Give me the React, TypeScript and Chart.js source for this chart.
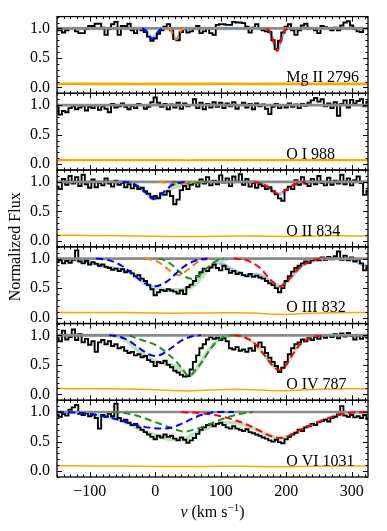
import React, { useEffect, useRef } from 'react';
import { Chart, registerables } from 'chart.js';

Chart.register(...registerables);

const FONT = '"Liberation Serif", "Times New Roman", serif';

const VELOCITY = [
  -150, -145, -140, -135, -130, -125, -120, -115, -110, -105,
  -100, -95, -90, -85, -80, -75, -70, -65, -60, -55,
  -50, -45, -40, -35, -30, -25, -20, -15, -10, -5,
  0, 5, 10, 15, 20, 25, 30, 35, 40, 45,
  50, 55, 60, 65, 70, 75, 80, 85, 90, 95,
  100, 105, 110, 115, 120, 125, 130, 135, 140, 145,
  150, 155, 160, 165, 170, 175, 180, 185, 190, 195,
  200, 205, 210, 215, 220, 225, 230, 235, 240, 245,
  250, 255, 260, 265, 270, 275, 280, 285, 290, 295,
  300, 305, 310, 315, 320, 325,
];

const FLUX_MGII = [
  0.97, 0.97, 0.93, 0.97, 1.0, 1.0, 0.95, 0.92, 0.92, 0.99,
  1.04, 1.04, 1.08, 1.08, 1.01, 0.89, 0.99, 1.07, 1.11, 0.89,
  1.04, 1.04, 1.08, 0.97, 0.92, 1.0, 0.97, 0.94, 0.86, 0.79,
  0.83, 0.91, 0.97, 1.03, 1.07, 0.97, 0.82, 0.8, 0.94, 0.99,
  0.93, 0.95, 1.0, 1.04, 0.92, 0.95, 1.0, 0.92, 0.89, 1.06,
  1.07, 1.07, 1.06, 1.06, 1.11, 1.1, 1.1, 1.09, 1.03, 0.93,
  1.01, 1.07, 1.0, 0.97, 0.95, 0.94, 0.8, 0.65, 0.79, 0.93,
  1.03, 1.07, 0.97, 0.89, 0.97, 1.05, 1.08, 1.0, 1.0, 0.97,
  0.92, 1.04, 1.02, 1.0, 0.97, 1.01, 0.97, 1.05, 1.1, 1.12,
  1.05, 0.99, 0.95, 0.94, 1.0, 1.0,
];

const FLUX_OI = [
  0.97, 0.84, 0.9, 0.88, 0.95, 0.98, 0.93, 0.96, 0.99, 0.91,
  0.97, 0.95, 1.0, 0.92, 0.98, 0.94, 0.88, 1.02, 0.96, 0.98,
  1.03, 0.97, 0.93, 0.99, 0.95, 1.02, 1.0, 0.94, 0.97, 1.05,
  1.13, 1.04, 0.97, 1.02, 0.93, 1.01, 0.96, 1.04, 0.94, 1.03,
  0.98, 1.0, 1.1, 0.95, 1.04, 0.93, 1.02, 0.96, 1.05, 0.97,
  1.04, 0.95, 1.03, 0.98, 1.05, 0.94, 1.0, 1.04, 0.96, 1.02,
  0.93, 1.03, 0.98, 1.01, 0.94, 0.85, 0.97, 1.02, 0.95, 1.0,
  0.96, 1.03, 0.97, 1.01, 0.95, 1.02, 0.99, 1.04, 1.08, 1.12,
  1.06, 1.1, 0.98, 1.03, 0.95, 1.05, 0.82, 1.02, 1.08, 0.96,
  1.09, 1.03, 1.07, 1.1, 0.98, 1.06,
];

const FLUX_OII = [
  0.92, 0.88, 1.05, 0.95, 1.1, 0.97, 1.08, 0.93, 1.12, 0.96,
  0.9, 1.04, 0.91, 0.98, 0.94, 1.06, 0.97, 0.92, 1.02, 0.95,
  0.98, 0.91, 0.96, 0.89, 0.93, 0.88, 0.9, 0.84, 0.8, 0.74,
  0.76, 0.72, 0.81, 0.78, 0.84, 0.76, 0.62, 0.7, 0.86, 0.93,
  0.88, 0.95, 0.99, 0.92, 1.04, 0.97, 1.08, 0.94, 1.02, 0.96,
  1.11, 0.99, 1.06, 0.93, 1.09, 1.0, 1.13, 0.95, 1.05, 0.92,
  0.98, 0.9, 0.96, 0.93, 0.88, 0.91, 0.84, 0.79, 0.72, 0.68,
  0.86, 0.92, 0.88, 1.03, 0.95, 1.08, 0.97, 0.93, 1.05, 0.96,
  1.1, 0.98, 0.94, 1.07, 0.95, 1.02, 0.97, 1.12, 0.96, 1.06,
  0.94, 1.03, 1.09, 0.98, 0.78, 0.85,
];

const FLUX_OIII = [
  0.94, 0.97, 0.92, 0.96, 0.93, 0.98, 1.14, 0.95, 0.92, 0.96,
  0.9, 0.94, 0.91, 0.88, 0.9, 0.86, 0.84, 0.81, 0.83, 0.79,
  0.82, 0.77, 0.79, 0.75, 0.7, 0.72, 0.66, 0.62, 0.55, 0.48,
  0.38, 0.43, 0.47, 0.45, 0.48, 0.46, 0.44, 0.41, 0.46, 0.4,
  0.52, 0.56, 0.62, 0.7, 0.77, 0.83, 0.79, 0.85, 0.9, 0.84,
  0.8, 0.88, 0.82, 0.76, 0.79, 0.74, 0.76, 0.72, 0.7, 0.74,
  0.69, 0.71, 0.68, 0.66, 0.62, 0.58, 0.55, 0.5, 0.43, 0.5,
  0.62, 0.7, 0.78, 0.84, 0.88, 0.92, 0.95, 0.93, 0.97, 1.0,
  0.97, 1.02, 0.98, 1.03, 0.99, 1.04, 1.12, 0.98, 1.05, 0.97,
  1.02, 0.95, 0.99, 0.92, 0.8, 0.85,
];

const FLUX_OIV = [
  0.95, 0.9, 1.08, 0.93, 0.97, 1.1, 0.92, 1.02, 0.88, 0.94,
  0.84, 0.9, 0.72, 0.88, 0.92, 0.85, 0.9, 0.82, 0.85, 0.78,
  0.8, 0.74, 0.7, 0.72, 0.66, 0.68, 0.63, 0.65, 0.58, 0.55,
  0.48, 0.55, 0.53, 0.57, 0.5, 0.46, 0.4, 0.37, 0.33, 0.3,
  0.31, 0.42, 0.55, 0.66, 0.78, 0.85, 0.93, 0.97, 0.94, 0.96,
  0.92, 0.95, 0.9, 0.78, 0.76, 0.8, 0.74, 0.76, 0.72, 0.78,
  0.74, 0.82, 0.88, 0.8, 0.7, 0.62, 0.55, 0.48, 0.38, 0.45,
  0.55, 0.68, 0.78, 0.85, 0.88, 0.93, 0.9, 0.95, 0.92, 0.97,
  0.94, 0.99, 0.96, 1.0, 0.97, 1.02, 0.95, 1.03, 0.98, 1.04,
  0.99, 0.93, 1.0, 0.94, 0.98, 0.96,
];

const FLUX_OVI = [
  0.95, 0.92, 0.97, 0.94, 1.04, 1.08, 1.12, 0.97, 0.95, 0.98,
  0.93, 0.96, 0.9, 0.72, 0.95, 0.92, 0.97, 0.93, 1.14, 0.9,
  0.85, 0.87, 0.82, 0.78, 0.8, 0.74, 0.7, 0.66, 0.62, 0.58,
  0.54, 0.6, 0.57, 0.62, 0.58, 0.6, 0.55, 0.52, 0.57, 0.53,
  0.48, 0.52, 0.56, 0.63, 0.7, 0.74, 0.78, 0.8, 0.76, 0.8,
  0.82, 0.78, 0.74, 0.72, 0.76, 0.72, 0.7, 0.68, 0.71, 0.66,
  0.64, 0.62, 0.6, 0.57, 0.55, 0.52, 0.5, 0.53, 0.49, 0.47,
  0.54, 0.58, 0.62, 0.65, 0.7, 0.68, 0.74, 0.76, 0.8, 0.78,
  0.83, 0.85, 0.87, 0.84, 0.9, 0.92, 0.96, 1.1, 0.94, 0.92,
  0.95, 0.91, 0.93, 0.9, 0.95, 0.88,
];

const ERR_VELOCITY = [-150, -125, -100, -75, -50, -25, 0, 25, 50, 75, 100, 125, 150, 175, 200, 225, 250, 275, 300, 325];
const ERR_MGII = [0.06, 0.062, 0.06, 0.061, 0.06, 0.059, 0.06, 0.061, 0.06, 0.06, 0.062, 0.06, 0.059, 0.06, 0.061, 0.06, 0.06, 0.061, 0.06, 0.06];
const ERR_OI = [0.068, 0.07, 0.067, 0.068, 0.069, 0.067, 0.068, 0.068, 0.066, 0.067, 0.068, 0.069, 0.067, 0.068, 0.068, 0.067, 0.069, 0.068, 0.067, 0.068];
const ERR_OII = [0.095, 0.095, 0.093, 0.09, 0.088, 0.085, 0.08, 0.075, 0.074, 0.076, 0.08, 0.082, 0.083, 0.078, 0.076, 0.08, 0.084, 0.086, 0.085, 0.084];
const ERR_OIII = [0.088, 0.087, 0.088, 0.086, 0.085, 0.083, 0.08, 0.075, 0.078, 0.08, 0.082, 0.083, 0.078, 0.06, 0.055, 0.07, 0.08, 0.084, 0.086, 0.085];
const ERR_OIV = [0.098, 0.097, 0.095, 0.094, 0.09, 0.085, 0.08, 0.065, 0.055, 0.07, 0.08, 0.085, 0.08, 0.065, 0.062, 0.075, 0.088, 0.092, 0.094, 0.095];
const ERR_OVI = [0.09, 0.09, 0.088, 0.087, 0.086, 0.083, 0.08, 0.078, 0.077, 0.08, 0.082, 0.082, 0.08, 0.074, 0.072, 0.078, 0.082, 0.085, 0.086, 0.085];

const CONTINUUM_V = [-150, 325];
const CONTINUUM_F = [1.0, 1.0];

// Mg II 2796 components
const MG_BLUE_V = [-20, -15, -10, -5, 0, 5, 10, 15];
const MG_BLUE_F = [1.0, 0.97, 0.89, 0.82, 0.87, 0.95, 0.99, 1.0];
const MG_ORANGE_V = [20, 25, 28, 32, 36, 39, 44];
const MG_ORANGE_F = [1.0, 0.95, 0.87, 0.81, 0.87, 0.95, 1.0];
const MG_RED_V = [170, 175, 180, 186, 192, 197, 202];
const MG_RED_F = [1.0, 0.95, 0.8, 0.62, 0.8, 0.95, 1.0];
const MG_TOTAL_V = [-150, -20, -15, -10, -5, 0, 5, 10, 20, 25, 28, 32, 36, 39, 44, 170, 175, 180, 186, 192, 197, 202, 325];
const MG_TOTAL_F = [1.0, 1.0, 0.97, 0.89, 0.82, 0.87, 0.95, 0.99, 1.0, 0.95, 0.87, 0.81, 0.87, 0.95, 1.0, 1.0, 0.95, 0.8, 0.62, 0.8, 0.95, 1.0, 1.0];

// O II 834 components
const OII_BLUE_V = [-50, -40, -30, -20, -10, -3, 5, 15, 25, 35, 45];
const OII_BLUE_F = [1.0, 0.99, 0.95, 0.87, 0.77, 0.71, 0.75, 0.85, 0.94, 0.98, 1.0];
const OII_ORANGE_V = [5, 15, 25, 32, 40, 50, 60];
const OII_ORANGE_F = [1.0, 0.99, 0.965, 0.955, 0.965, 0.99, 1.0];
const OII_GREEN_V = [25, 35, 45, 52, 60, 70, 80];
const OII_GREEN_F = [1.0, 0.99, 0.975, 0.97, 0.975, 0.99, 1.0];
const OII_RED_V = [150, 160, 170, 180, 189, 198, 208, 218, 230];
const OII_RED_F = [1.0, 0.98, 0.93, 0.85, 0.79, 0.85, 0.93, 0.98, 1.0];
const OII_GROUP_V = [-50, -40, -30, -20, -10, -3, 5, 15, 25, 35, 45, 55, 65, 80];
const OII_GROUP_F = [1.0, 0.99, 0.95, 0.87, 0.77, 0.71, 0.74, 0.81, 0.89, 0.93, 0.955, 0.97, 0.985, 1.0];
const OII_TOTAL_V = [-150, -50, -40, -30, -20, -10, -3, 5, 15, 25, 35, 45, 55, 65, 80, 150, 160, 170, 180, 189, 198, 208, 218, 230, 325];
const OII_TOTAL_F = [1.0, 1.0, 0.99, 0.95, 0.87, 0.77, 0.71, 0.74, 0.81, 0.89, 0.93, 0.955, 0.97, 0.985, 1.0, 1.0, 0.98, 0.93, 0.85, 0.79, 0.85, 0.93, 0.98, 1.0, 1.0];

// O III 832 components
const OIII_BLUE_V = [-90, -80, -70, -60, -50, -40, -30, -20, -10, 0, 10, 20, 30, 40, 50, 60, 70, 80];
const OIII_BLUE_F = [1.0, 0.99, 0.97, 0.93, 0.87, 0.79, 0.7, 0.61, 0.55, 0.53, 0.56, 0.63, 0.73, 0.83, 0.91, 0.96, 0.99, 1.0];
const OIII_ORANGE_V = [-15, -5, 5, 15, 25, 35, 45, 55, 65, 75, 85];
const OIII_ORANGE_F = [1.0, 0.98, 0.94, 0.86, 0.77, 0.72, 0.77, 0.86, 0.94, 0.98, 1.0];
const OIII_GREEN_V = [5, 15, 25, 35, 45, 55, 65, 75, 85, 95, 105];
const OIII_GREEN_F = [1.0, 0.97, 0.9, 0.8, 0.7, 0.66, 0.7, 0.8, 0.9, 0.97, 1.0];
const OIII_RED_V = [120, 130, 140, 150, 160, 170, 180, 190, 200, 210, 220, 230, 240, 250, 260];
const OIII_RED_F = [1.0, 0.99, 0.97, 0.92, 0.84, 0.72, 0.6, 0.53, 0.6, 0.72, 0.84, 0.92, 0.97, 0.99, 1.0];
const OIII_GROUP_V = [-40, -30, -20, -10, 0, 10, 20, 30, 40, 50, 60, 70, 80, 90, 100, 110];
const OIII_GROUP_F = [0.79, 0.7, 0.61, 0.54, 0.5, 0.48, 0.47, 0.47, 0.47, 0.49, 0.55, 0.67, 0.81, 0.92, 0.97, 0.99];
const OIII_TOTAL_V = [-150, -130, -110, -90, -75, -60, -45, -35, -25, -15, -5, 5, 15, 25, 35, 45, 55, 65, 75, 85, 95, 105, 115, 125, 135, 145, 155, 165, 175, 185, 190, 195, 205, 215, 225, 235, 245, 255, 265, 280, 295, 305, 315, 325];
const OIII_TOTAL_F = [1.0, 0.99, 0.96, 0.91, 0.86, 0.83, 0.8, 0.75, 0.67, 0.59, 0.52, 0.49, 0.47, 0.47, 0.47, 0.48, 0.52, 0.61, 0.74, 0.87, 0.93, 0.9, 0.83, 0.77, 0.72, 0.72, 0.73, 0.7, 0.62, 0.55, 0.53, 0.55, 0.66, 0.78, 0.88, 0.94, 0.98, 0.99, 1.0, 1.0, 0.99, 0.97, 0.91, 0.85];

// O IV 787 components
const OIV_BLUE_V = [-70, -60, -50, -40, -30, -20, -10, 0, 10, 20, 30, 40, 50, 60, 70];
const OIV_BLUE_F = [1.0, 0.99, 0.96, 0.91, 0.83, 0.75, 0.68, 0.65, 0.68, 0.75, 0.83, 0.91, 0.96, 0.99, 1.0];
const OIV_GREEN_V = [-40, -28, -15, 0, 10, 20, 30, 40, 52, 62, 72, 85, 98, 110, 120];
const OIV_GREEN_F = [1.0, 0.95, 0.9, 0.84, 0.77, 0.68, 0.58, 0.45, 0.31, 0.42, 0.56, 0.78, 0.93, 0.99, 1.0];
const OIV_RED_V = [120, 130, 140, 150, 160, 170, 180, 190, 200, 210, 220, 230, 240, 250, 260];
const OIV_RED_F = [1.0, 0.99, 0.95, 0.88, 0.76, 0.62, 0.48, 0.41, 0.5, 0.68, 0.83, 0.92, 0.97, 0.99, 1.0];
const OIV_GROUP_V = [-70, -60, -50, -40, -30, -20, -10, 0, 10, 20, 30, 40, 50, 60, 70, 80, 90, 100, 110, 120];
const OIV_GROUP_F = [1.0, 0.99, 0.95, 0.88, 0.78, 0.69, 0.61, 0.56, 0.53, 0.51, 0.48, 0.41, 0.31, 0.38, 0.54, 0.72, 0.86, 0.95, 0.99, 1.0];
const OIV_TOTAL_V = [-150, -70, -60, -50, -40, -30, -20, -10, 0, 10, 20, 30, 40, 50, 60, 70, 80, 90, 100, 110, 120, 130, 140, 150, 160, 170, 180, 190, 200, 210, 220, 230, 240, 250, 260, 325];
const OIV_TOTAL_F = [1.0, 1.0, 0.99, 0.95, 0.88, 0.78, 0.69, 0.61, 0.56, 0.53, 0.51, 0.48, 0.41, 0.31, 0.38, 0.54, 0.72, 0.86, 0.95, 0.99, 1.0, 0.99, 0.95, 0.88, 0.76, 0.62, 0.48, 0.41, 0.5, 0.68, 0.83, 0.92, 0.97, 0.99, 1.0, 1.0];

// O VI 1031 components
const OVI_BLUE_V = [-150, -120, -95, -70, -45, -25, -5, 10, 25, 40, 55, 70, 85, 100, 120];
const OVI_BLUE_F = [1.0, 0.99, 0.96, 0.91, 0.83, 0.77, 0.73, 0.72, 0.74, 0.8, 0.88, 0.95, 0.99, 1.0, 1.0];
const OVI_GREEN_V = [-65, -40, -20, 0, 20, 35, 45, 55, 70, 90, 110, 130, 150];
const OVI_GREEN_F = [1.0, 0.97, 0.91, 0.83, 0.75, 0.69, 0.67, 0.69, 0.74, 0.83, 0.91, 0.97, 1.0];
const OVI_RED_V = [40, 70, 100, 120, 140, 160, 175, 190, 205, 220, 240, 260, 280, 300, 325];
const OVI_RED_F = [1.0, 0.98, 0.93, 0.87, 0.79, 0.68, 0.6, 0.56, 0.6, 0.69, 0.79, 0.88, 0.95, 0.99, 1.0];
const OVI_TOTAL_V = [-150, -120, -90, -60, -40, -20, 0, 20, 35, 50, 65, 80, 95, 110, 125, 140, 160, 175, 190, 205, 220, 240, 260, 280, 300, 325];
const OVI_TOTAL_F = [1.0, 0.99, 0.95, 0.89, 0.8, 0.69, 0.61, 0.54, 0.53, 0.57, 0.66, 0.73, 0.8, 0.82, 0.82, 0.77, 0.68, 0.6, 0.56, 0.6, 0.69, 0.79, 0.88, 0.95, 0.99, 1.0];

const X_TICKS = [-100, 0, 100, 200, 300];
const Y_TICKS = [0.0, 0.5, 1.0];

const BLUE = '#0000ff';
const ORANGE = '#ff7f0e';
const GREEN = '#1f8f1f';
const RED = '#ff0000';
const LIGHT_BLUE = '#a9c9e2';
const LIGHT_GREEN = '#bde3bd';
const ERR_COLOR = '#ffa500';
const CONT_COLOR = '#8a8a8a';

type Comp = { v: number[]; f: number[]; color: string };
type Panel = {
  id: string;
  label: string;
  flux: number[];
  err: number[];
  errWidth: number;
  comps: Comp[];
  group?: { v: number[]; f: number[] };
  groupColor?: string;
  total?: { v: number[]; f: number[] };
  totalColor?: string;
};

const PANELS: Panel[] = [
  {
    id: 'y1', label: 'Mg II 2796', flux: FLUX_MGII, err: ERR_MGII, errWidth: 2.6,
    comps: [
      { v: MG_BLUE_V, f: MG_BLUE_F, color: BLUE },
      { v: MG_ORANGE_V, f: MG_ORANGE_F, color: ORANGE },
      { v: MG_RED_V, f: MG_RED_F, color: RED },
    ],
    total: { v: MG_TOTAL_V, f: MG_TOTAL_F }, totalColor: LIGHT_BLUE,
  },
  { id: 'y2', label: 'O I 988', flux: FLUX_OI, err: ERR_OI, errWidth: 2.2, comps: [] },
  {
    id: 'y3', label: 'O II 834', flux: FLUX_OII, err: ERR_OII, errWidth: 1.5,
    comps: [
      { v: OII_BLUE_V, f: OII_BLUE_F, color: BLUE },
      { v: OII_ORANGE_V, f: OII_ORANGE_F, color: ORANGE },
      { v: OII_GREEN_V, f: OII_GREEN_F, color: GREEN },
      { v: OII_RED_V, f: OII_RED_F, color: RED },
    ],
    group: { v: OII_GROUP_V, f: OII_GROUP_F }, groupColor: LIGHT_GREEN,
    total: { v: OII_TOTAL_V, f: OII_TOTAL_F }, totalColor: LIGHT_BLUE,
  },
  {
    id: 'y4', label: 'O III 832', flux: FLUX_OIII, err: ERR_OIII, errWidth: 1.5,
    comps: [
      { v: OIII_BLUE_V, f: OIII_BLUE_F, color: BLUE },
      { v: OIII_ORANGE_V, f: OIII_ORANGE_F, color: ORANGE },
      { v: OIII_GREEN_V, f: OIII_GREEN_F, color: GREEN },
      { v: OIII_RED_V, f: OIII_RED_F, color: RED },
    ],
    group: { v: OIII_GROUP_V, f: OIII_GROUP_F }, groupColor: LIGHT_GREEN,
    total: { v: OIII_TOTAL_V, f: OIII_TOTAL_F }, totalColor: LIGHT_BLUE,
  },
  {
    id: 'y5', label: 'O IV 787', flux: FLUX_OIV, err: ERR_OIV, errWidth: 1.5,
    comps: [
      { v: OIV_BLUE_V, f: OIV_BLUE_F, color: BLUE },
      { v: OIV_GREEN_V, f: OIV_GREEN_F, color: GREEN },
      { v: OIV_RED_V, f: OIV_RED_F, color: RED },
    ],
    group: { v: OIV_GROUP_V, f: OIV_GROUP_F }, groupColor: LIGHT_GREEN,
    total: { v: OIV_TOTAL_V, f: OIV_TOTAL_F }, totalColor: LIGHT_GREEN,
  },
  {
    id: 'y6', label: 'O VI 1031', flux: FLUX_OVI, err: ERR_OVI, errWidth: 1.5,
    comps: [
      { v: OVI_BLUE_V, f: OVI_BLUE_F, color: BLUE },
      { v: OVI_GREEN_V, f: OVI_GREEN_F, color: GREEN },
      { v: OVI_RED_V, f: OVI_RED_F, color: RED },
    ],
    total: { v: OVI_TOTAL_V, f: OVI_TOTAL_F }, totalColor: LIGHT_GREEN,
  },
];

function pts(v: number[], f: number[]) {
  return v.map((x, i) => ({ x, y: f[i] }));
}

function buildDatasets() {
  const ds: any[] = [];
  for (const p of PANELS) {
    for (const c of p.comps) {
      ds.push({
        data: pts(c.v, c.f), yAxisID: p.id, borderColor: c.color, borderWidth: 2,
        borderDash: [7, 4], cubicInterpolationMode: 'monotone', pointRadius: 0, fill: false,
      });
    }
    ds.push({
      data: pts(CONTINUUM_V, CONTINUUM_F), yAxisID: p.id, borderColor: CONT_COLOR, borderWidth: 2.6,
      pointRadius: 0, fill: false,
    });
    ds.push({
      data: pts(VELOCITY, p.flux), yAxisID: p.id, borderColor: '#000', borderWidth: 1.9,
      stepped: 'middle', pointRadius: 0, fill: false,
    });
    ds.push({
      data: pts(ERR_VELOCITY, p.err), yAxisID: p.id, borderColor: ERR_COLOR, borderWidth: p.errWidth,
      pointRadius: 0, fill: false,
    });
    if (p.group) {
      ds.push({
        data: pts(p.group.v, p.group.f), yAxisID: p.id, borderColor: p.groupColor, borderWidth: 3.5,
        cubicInterpolationMode: 'monotone', pointRadius: 0, fill: false,
      });
    }
    if (p.total) {
      ds.push({
        data: pts(p.total.v, p.total.f), yAxisID: p.id, borderColor: p.totalColor, borderWidth: 3.5,
        cubicInterpolationMode: 'monotone', pointRadius: 0, fill: false,
      });
    }
  }
  return ds;
}

function buildScales() {
  const scales: any = {
    x: {
      type: 'linear', min: -150, max: 325, position: 'bottom',
      grid: { display: false, drawTicks: false }, border: { display: false },
      ticks: {
        font: { family: FONT, size: 16 }, color: '#000', padding: 5, autoSkip: false, maxRotation: 0,
        callback: (v: any) => String(v).replace('-', '\u2212'),
      },
      afterBuildTicks: (s: any) => { s.ticks = X_TICKS.map((v) => ({ value: v })); },
      afterFit: (s: any) => { s.height = 54; },
    },
  };
  const reversed = [...PANELS].reverse();
  for (const p of reversed) {
    scales[p.id] = {
      type: 'linear', position: 'left', stack: 'panels', stackWeight: 1, min: -0.1, max: 1.2,
      grid: { display: false, drawTicks: false }, border: { display: false },
      ticks: {
        font: { family: FONT, size: 16 }, color: '#000', padding: 7, autoSkip: false,
        callback: (v: any) => Number(v).toFixed(1),
      },
      afterBuildTicks: (s: any) => { s.ticks = Y_TICKS.map((v) => ({ value: v })); },
      afterFit: (s: any) => { s.width = 57; },
    };
  }
  return scales;
}

const framePlugin = {
  id: 'frame',
  afterDraw(chart: any) {
    const ctx = chart.ctx;
    const area = chart.chartArea;
    const xs = chart.scales.x;
    ctx.save();
    ctx.strokeStyle = '#000';
    ctx.fillStyle = '#000';
    for (const p of PANELS) {
      const ys = chart.scales[p.id];
      const top = ys.top;
      const bottom = ys.bottom;
      ctx.lineWidth = 1;
      ctx.beginPath();
      for (let v = -150; v <= 325; v += 10) {
        const x = Math.round(xs.getPixelForValue(v)) + 0.5;
        const major = v % 100 === 0;
        const len = major ? 5 : 2.5;
        ctx.moveTo(x, top); ctx.lineTo(x, top + len);
        ctx.moveTo(x, bottom); ctx.lineTo(x, bottom - len);
      }
      for (let k = -1; k <= 12; k++) {
        const v = k / 10;
        const y = Math.round(ys.getPixelForValue(v)) + 0.5;
        const major = k % 5 === 0;
        const len = major ? 5 : 2.5;
        ctx.moveTo(area.left, y); ctx.lineTo(area.left + len, y);
        ctx.moveTo(area.right, y); ctx.lineTo(area.right - len, y);
      }
      ctx.stroke();
      ctx.lineWidth = 1.3;
      ctx.strokeRect(area.left, top, area.right - area.left, bottom - top);
      ctx.font = `16px ${FONT}`;
      ctx.textAlign = 'left';
      ctx.textBaseline = 'alphabetic';
      ctx.fillText(p.label, xs.getPixelForValue(200), ys.getPixelForValue(0.09));
    }
    // y title
    ctx.save();
    ctx.translate(16, (area.top + area.bottom) / 2);
    ctx.rotate(-Math.PI / 2);
    ctx.font = `16px ${FONT}`;
    ctx.textAlign = 'center';
    ctx.textBaseline = 'middle';
    ctx.fillText('Normalized Flux', 0, 0);
    ctx.restore();
    // x title
    const cx = (area.left + area.right) / 2;
    const base = 517;
    ctx.textAlign = 'left';
    ctx.textBaseline = 'alphabetic';
    ctx.font = `italic 16px ${FONT}`;
    const wv = ctx.measureText('v').width;
    ctx.font = `16px ${FONT}`;
    const w1 = ctx.measureText(' (km s').width;
    const w3 = ctx.measureText(')').width;
    ctx.font = `11px ${FONT}`;
    const w2 = ctx.measureText('\u22121').width;
    let x = cx - (wv + w1 + w2 + w3) / 2;
    ctx.font = `italic 16px ${FONT}`;
    ctx.fillText('v', x, base); x += wv;
    ctx.font = `16px ${FONT}`;
    ctx.fillText(' (km s', x, base); x += w1;
    ctx.font = `11px ${FONT}`;
    ctx.fillText('\u22121', x, base - 6); x += w2;
    ctx.font = `16px ${FONT}`;
    ctx.fillText(')', x, base);
    ctx.restore();
  },
};

export default function App() {
  const ref = useRef<HTMLCanvasElement>(null);
  useEffect(() => {
    const chart = new Chart(ref.current as HTMLCanvasElement, {
      type: 'line',
      data: { datasets: buildDatasets() },
      options: {
        animation: false,
        responsive: false,
        maintainAspectRatio: false,
        events: [],
        parsing: false as any,
        normalized: true,
        layout: { padding: { left: 0, right: 19, top: 15, bottom: 0 } },
        plugins: { legend: { display: false }, tooltip: { enabled: false } },
        elements: { point: { radius: 0 } },
        scales: buildScales(),
      } as any,
      plugins: [framePlugin],
    });
    return () => chart.destroy();
  }, []);
  return (
    <div style={{ position: 'absolute', left: 0, top: 0, width: 387, height: 531, background: '#fff' }}>
      <canvas ref={ref} width={387} height={531} style={{ width: 387, height: 531, display: 'block' }} />
    </div>
  );
}
